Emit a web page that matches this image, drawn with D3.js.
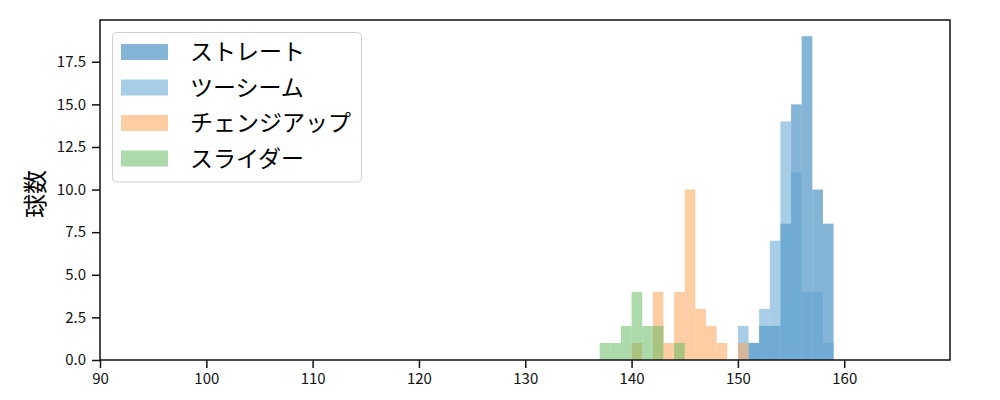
<!DOCTYPE html>
<html>
<head>
<meta charset="utf-8">
<script src="https://cdn.jsdelivr.net/npm/d3@7"></script>
<style>
  body { margin: 0; background: #fff; }
  text { font-family: "Noto Sans CJK JP", "Noto Sans", sans-serif; }
</style>
</head>
<body>
<div id="chart"></div>
<script>
// pitch types in legend / draw order
const pitchNames = ["ストレート", "ツーシーム", "チェンジアップ", "スライダー"];
const pitchColors = ["#1f77b4", "#61a4d2", "#fba458", "#67bc65"];

// each histogram: speed range (km/h) split into equal bins, and the count per bin
const straightRange = [151, 159];
const straightCounts = [1, 2, 2, 8, 15, 19, 10, 8];
const twoSeamRange = [150, 159];
const twoSeamCounts = [2, 1, 3, 7, 14, 11, 4, 4, 1];
const changeupRange = [140, 151];
const changeupCounts = [1, 0, 4, 1, 4, 10, 3, 2, 1, 0, 1];
const sliderRange = [137, 145];
const sliderCounts = [1, 1, 2, 4, 2, 2, 0, 1];

const xTicks = [90, 100, 110, 120, 130, 140, 150, 160];
const yTicks = [0, 2.5, 5, 7.5, 10, 12.5, 15, 17.5];

const width = 1000;
const height = 400;
const margin = { left: 100, right: 50, top: 20, bottom: 40 };

const svg = d3.select("#chart")
  .append("svg")
  .attr("width", width)
  .attr("height", height);

const x = d3.scaleLinear().domain([90, 169.95]).range([margin.left, width - margin.right]);
const y = d3.scaleLinear().domain([0, 19.95]).range([height - margin.bottom, margin.top]);

// turn range + counts into bins
function toBins(range, counts) {
  const step = (range[1] - range[0]) / counts.length;
  return counts.map((c, i) => ({ x0: range[0] + i * step, x1: range[0] + (i + 1) * step, count: c }));
}

const series = [
  toBins(straightRange, straightCounts),
  toBins(twoSeamRange, twoSeamCounts),
  toBins(changeupRange, changeupCounts),
  toBins(sliderRange, sliderCounts)
];

series.forEach(function (bins, i) {
  svg.append("g")
    .selectAll("rect")
    .data(bins.filter(d => d.count > 0))
    .enter().append("rect")
    .attr("x", d => x(d.x0))
    .attr("width", d => x(d.x1) - x(d.x0))
    .attr("y", d => y(d.count))
    .attr("height", d => y(0) - y(d.count))
    .style("fill", pitchColors[i])
    .style("fill-opacity", 0.55);
});

// axes
const xAxis = svg.append("g")
  .attr("transform", `translate(0,${height - margin.bottom})`)
  .call(d3.axisBottom(x).tickValues(xTicks).tickSize(8).tickPadding(5).tickFormat(d3.format("d")));
const yAxis = svg.append("g")
  .attr("transform", `translate(${margin.left},0)`)
  .call(d3.axisLeft(y).tickValues(yTicks).tickSize(8).tickPadding(6).tickFormat(d3.format(".1f")));

[xAxis, yAxis].forEach(function (ax) {
  ax.select(".domain").remove();
  ax.selectAll(".tick line").style("stroke", "#111").style("stroke-width", 1.5);
  ax.selectAll(".tick text").style("font-size", "15px").style("fill", "#111");
});

// frame
svg.append("rect")
  .attr("x", margin.left)
  .attr("y", margin.top)
  .attr("width", width - margin.left - margin.right)
  .attr("height", height - margin.top - margin.bottom)
  .style("fill", "none")
  .style("stroke", "#111")
  .style("stroke-width", 1.5);

// y label
svg.append("text")
  .attr("transform", `translate(44,${(margin.top + height - margin.bottom) / 2 + 4}) rotate(-90)`)
  .attr("text-anchor", "middle")
  .style("font-size", "24px")
  .text("球数");

// legend
const legend = svg.append("g");
legend.append("rect")
  .attr("x", 112.5)
  .attr("y", 32.5)
  .attr("width", 249)
  .attr("height", 149.5)
  .attr("rx", 4)
  .style("fill", "#fff")
  .style("fill-opacity", 0.8)
  .style("stroke", "#d0d0d0")
  .style("stroke-width", 1);

pitchNames.forEach(function (name, i) {
  const cy = 52 + i * 35.5;
  legend.append("rect")
    .attr("x", 121)
    .attr("y", cy - 8)
    .attr("width", 47)
    .attr("height", 16)
    .style("fill", pitchColors[i])
    .style("fill-opacity", 0.55);
  legend.append("text")
    .attr("x", 190)
    .attr("y", cy)
    .attr("dy", "0.36em")
    .style("font-size", "23px")
    .text(name);
});
</script>
</body>
</html>
